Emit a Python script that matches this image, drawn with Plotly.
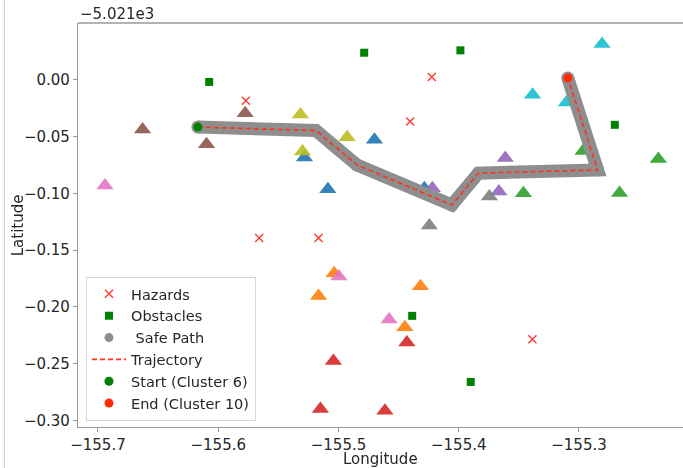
import plotly.graph_objects as go

# ---------------- data (latitude values are offsets from -5021) ----------------
LAT_OFFSET_TEXT = "−5.021e3"

hazard_lon = [-155.577, -155.4224, -155.4404, -155.5659, -155.5166, -155.3387]
hazard_lat = [-0.0185, 0.0024, -0.0368, -0.1394, -0.1394, -0.2285]

obstacle_lon = [-155.6075, -155.4786, -155.3986, -155.2702, -155.4387, -155.3900]
obstacle_lat = [-0.0019, 0.0238, 0.0259, -0.0397, -0.2080, -0.2662]

path_lon = [-155.6169, -155.5188, -155.4847, -155.4057, -155.3836, -155.2845, -155.3093]
path_lat = [-0.0417, -0.0447, -0.0750, -0.1103, -0.0823, -0.0794, 0.0015]

cluster_ids = [1, 2, 3, 4, 5, 6, 7, 8, 9, 10]
cluster_lon = {
    1: [-155.5283, -155.4701, -155.5088, -155.4286],
    2: [-155.5036, -155.5166, -155.4318, -155.4448],
    3: [-155.2340, -155.2663, -155.3462, -155.2966],
    4: [-155.4431, -155.5042, -155.5150, -155.4614],
    5: [-155.3613, -155.4219, -155.3666],
    6: [-155.6629, -155.5776, -155.6097],
    7: [-155.6942, -155.4997, -155.4579],
    8: [-155.3745, -155.4244],
    9: [-155.5316, -155.4928, -155.5299],
    10: [-155.2808, -155.3386, -155.3105],
}
cluster_lat = {
    1: [-0.0684, -0.0528, -0.0964, -0.0955],
    2: [-0.1705, -0.1904, -0.1819, -0.2181],
    3: [-0.0699, -0.0997, -0.0999, -0.0628],
    4: [-0.2314, -0.2478, -0.2901, -0.2916],
    5: [-0.0690, -0.0955, -0.0984],
    6: [-0.0439, -0.0296, -0.0569],
    7: [-0.0931, -0.1734, -0.2111],
    8: [-0.1028, -0.1284],
    9: [-0.0307, -0.0507, -0.0631],
    10: [0.0316, -0.0131, -0.0200],
}
start_cluster, end_cluster = 6, 10

x_tickvals = [-155.7, -155.6, -155.5, -155.4, -155.3]
x_ticktext = ["−155.7", "−155.6", "−155.5", "−155.4", "−155.3"]
y_tickvals = [0.0, -0.05, -0.10, -0.15, -0.20, -0.25, -0.30]
y_ticktext = ["0.00", "−0.05", "−0.10", "−0.15", "−0.20", "−0.25", "−0.30"]
x_title, y_title = "Longitude", "Latitude"

tab10 = ["#1f77b4", "#ff7f0e", "#2ca02c", "#d62728", "#9467bd",
         "#8c564b", "#e377c2", "#7f7f7f", "#bcbd22", "#17becf"]

FONT = "DejaVu Sans"
TXT = "#262626"
fig = go.Figure()

# cluster triangles
for cid in cluster_ids:
    fig.add_trace(go.Scatter(
        x=cluster_lon[cid], y=cluster_lat[cid], mode="markers",
        marker=dict(symbol="triangle-up", size=15, color=tab10[cid - 1],
                    line=dict(width=0)),
        opacity=0.9, showlegend=False, hoverinfo="skip"))

fig.add_trace(go.Scatter(
    x=hazard_lon, y=hazard_lat, mode="markers", name="Hazards",
    marker=dict(symbol="x-thin", size=8, color="#ff3b2b",
                line=dict(width=1.4, color="#ff3b2b"))))

fig.add_trace(go.Scatter(
    x=obstacle_lon, y=obstacle_lat, mode="markers", name="Obstacles",
    marker=dict(symbol="square", size=8, color="#008000")))

# safe path (thick gray)
fig.add_trace(go.Scatter(
    x=path_lon, y=path_lat, mode="lines",
    line=dict(color="#8e8e8e", width=13), showlegend=False, hoverinfo="skip"))
fig.add_trace(go.Scatter(
    x=path_lon, y=path_lat, mode="markers",
    marker=dict(symbol="circle", size=13, color="#8e8e8e"),
    showlegend=False, hoverinfo="skip"))
fig.add_trace(go.Scatter(
    x=[None], y=[None], mode="markers", name=" Safe Path",
    marker=dict(symbol="circle", size=9, color="#8e8e8e")))

fig.add_trace(go.Scatter(
    x=path_lon, y=path_lat, mode="lines", name="Trajectory",
    line=dict(color="#ff3218", width=1.6, dash="5px,3px")))

fig.add_trace(go.Scatter(
    x=[path_lon[0]], y=[path_lat[0]], mode="markers",
    name=f"Start (Cluster {start_cluster})",
    marker=dict(symbol="circle", size=9, color="#008000")))
fig.add_trace(go.Scatter(
    x=[path_lon[-1]], y=[path_lat[-1]], mode="markers",
    name=f"End (Cluster {end_cluster})",
    marker=dict(symbol="circle", size=9, color="#ff2a00")))

axis_common = dict(
    showgrid=False, zeroline=False, showline=True, linecolor="#9a9a9a",
    linewidth=1.3, ticks="outside", ticklen=4, tickwidth=1, tickcolor="#9a9a9a",
    tickfont=dict(family=FONT, size=15, color=TXT),
)

fig.update_layout(
    width=683, height=468,
    margin=dict(l=78, r=0, t=23, b=41),
    paper_bgcolor="white", plot_bgcolor="white",
    font=dict(family=FONT, size=15, color=TXT),
    xaxis=dict(range=[-155.7166, -155.2135], tickvals=x_tickvals,
               ticktext=x_ticktext, mirror=False, **axis_common),
    yaxis=dict(range=[-0.3059, 0.0500], tickvals=y_tickvals,
               ticktext=y_ticktext, **axis_common),
    legend=dict(x=0.0132, y=0.015, xanchor="left", yanchor="bottom",
                bgcolor="rgba(255,255,255,0.85)", bordercolor="#d6d6d6",
                borderwidth=1, font=dict(family=FONT, size=14.5, color=TXT),
                tracegroupgap=0, itemwidth=34),
    showlegend=True,
)

# top spine
fig.add_shape(type="line", xref="paper", yref="paper", x0=0, x1=1, y0=1, y1=1,
              line=dict(color="#9a9a9a", width=1.3))
# light page border on the far left
fig.add_shape(type="line", xref="paper", yref="paper", x0=-0.1218, x1=-0.1218,
              y0=-0.11, y1=1.06, line=dict(color="#c8c8c8", width=1))

# axis titles
fig.add_annotation(text=x_title, xref="paper", yref="paper", x=0.5008, y=-0.0785,
                   xanchor="center", yanchor="middle", showarrow=False, borderpad=0,
                   font=dict(family=FONT, size=15, color=TXT))
fig.add_annotation(text=y_title, xref="paper", yref="paper", x=-0.0987, y=0.5,
                   xanchor="center", yanchor="middle", showarrow=False, borderpad=0,
                   textangle=-90, font=dict(family=FONT, size=15, color=TXT))

# offset text
fig.add_annotation(text=LAT_OFFSET_TEXT, xref="paper", yref="paper", x=0, y=1,
                   xanchor="left", yanchor="bottom", showarrow=False, yshift=-2,
                   font=dict(family=FONT, size=15, color=TXT))

fig.write_html("out.html")
